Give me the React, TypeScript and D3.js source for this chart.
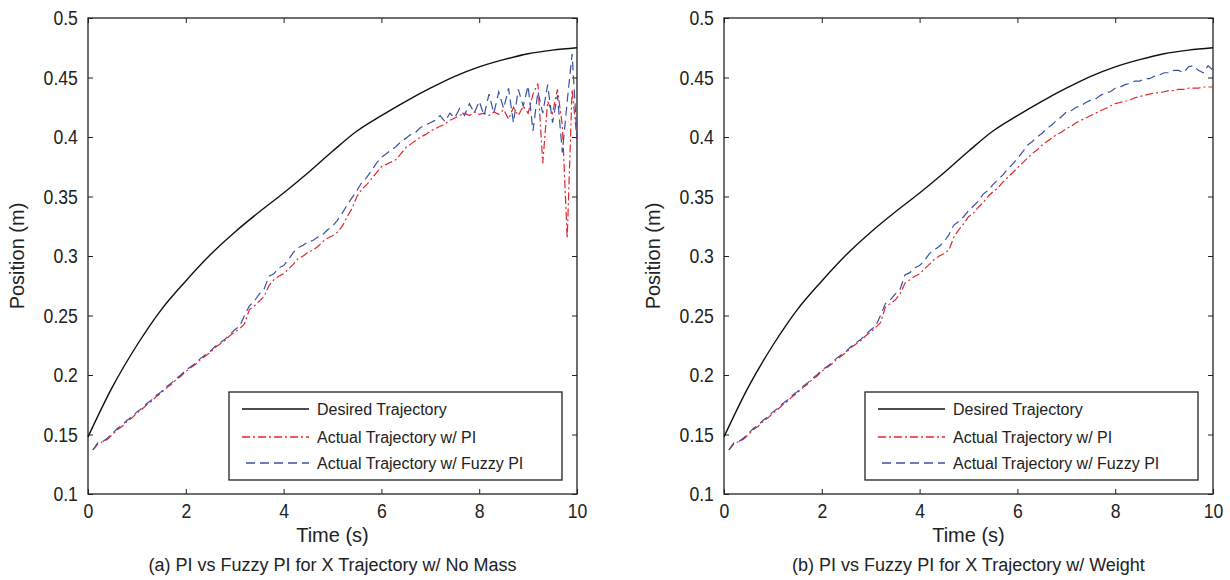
import React, { useRef, useEffect } from "react";
import { select, scaleLinear, line, curveMonotoneX, axisBottom, axisLeft, axisTop, axisRight, range } from "d3";

// time samples
const timeDesired = range(0, 10.01, 0.5);
const timeActual = range(1, 101).map((i) => i / 10);

const desired = [
  0.148, 0.19, 0.225, 0.255, 0.279, 0.301, 0.32, 0.337, 0.353, 0.37, 0.388,
  0.405, 0.418, 0.43, 0.441, 0.451, 0.459, 0.465, 0.47, 0.473, 0.475,
];

const startPart = [
  0.137, 0.142, 0.144, 0.146, 0.15, 0.154, 0.157, 0.161, 0.164, 0.168,
  0.171, 0.175, 0.178, 0.182, 0.185, 0.189, 0.192, 0.196, 0.199, 0.203,
  0.206, 0.209, 0.213, 0.216, 0.219, 0.223, 0.226, 0.229, 0.233, 0.236,
];
const startPartFuzzy = [
  0.137, 0.143, 0.144, 0.147, 0.151, 0.155, 0.158, 0.162, 0.165, 0.169,
  0.172, 0.176, 0.179, 0.183, 0.186, 0.19, 0.193, 0.197, 0.2, 0.204,
  0.207, 0.21, 0.214, 0.217, 0.22, 0.224, 0.227, 0.23, 0.234, 0.238,
];

const piNoMass = [
  ...startPart,
  0.239, 0.243, 0.255, 0.258, 0.262, 0.266, 0.275, 0.28, 0.283, 0.285,
  0.289, 0.293, 0.298, 0.3, 0.303, 0.305, 0.308, 0.312, 0.315, 0.317,
  0.32, 0.325, 0.333, 0.34, 0.35, 0.356, 0.36, 0.365, 0.37, 0.375,
  0.377, 0.379, 0.381, 0.386, 0.391, 0.394, 0.397, 0.4, 0.402, 0.405,
  0.407, 0.409, 0.411, 0.414, 0.416, 0.418, 0.42, 0.418, 0.421, 0.419,
  0.42, 0.418, 0.421, 0.419, 0.423, 0.415, 0.425, 0.418, 0.426, 0.42,
  0.436, 0.445, 0.378, 0.43, 0.42, 0.44, 0.41, 0.315, 0.44, 0.398,
];

const fuzzyNoMass = [
  ...startPartFuzzy,
  0.241, 0.25, 0.258, 0.262, 0.268, 0.272, 0.283, 0.285, 0.29, 0.292,
  0.297, 0.303, 0.307, 0.309, 0.312, 0.313, 0.316, 0.318, 0.322, 0.325,
  0.33, 0.336, 0.343, 0.349, 0.355, 0.362, 0.366, 0.372, 0.378, 0.383,
  0.386, 0.389, 0.392, 0.396, 0.399, 0.402, 0.404, 0.408, 0.41, 0.412,
  0.414, 0.418, 0.413, 0.42, 0.416, 0.424, 0.418, 0.428, 0.42, 0.43,
  0.418, 0.436, 0.42, 0.438, 0.424, 0.441, 0.412, 0.44, 0.426, 0.443,
  0.405, 0.438, 0.42, 0.444, 0.412, 0.435, 0.387, 0.43, 0.47, 0.4,
];

const piWeight = [
  ...startPart,
  0.24, 0.244, 0.257, 0.26, 0.263, 0.268, 0.277, 0.28, 0.283, 0.285,
  0.289, 0.293, 0.297, 0.3, 0.302, 0.305, 0.316, 0.322, 0.327, 0.333,
  0.336, 0.341, 0.345, 0.35, 0.354, 0.357, 0.362, 0.366, 0.37, 0.374,
  0.378, 0.382, 0.386, 0.389, 0.393, 0.396, 0.399, 0.402, 0.404, 0.407,
  0.409, 0.412, 0.414, 0.416, 0.418, 0.42, 0.422, 0.424, 0.426, 0.428,
  0.429, 0.43, 0.431, 0.433, 0.434, 0.435, 0.436, 0.437, 0.437, 0.438,
  0.439, 0.439, 0.44, 0.44, 0.441, 0.441, 0.441, 0.442, 0.442, 0.442,
];

const fuzzyWeight = [
  ...startPartFuzzy,
  0.241, 0.25, 0.26, 0.263, 0.268, 0.272, 0.284, 0.286, 0.29, 0.292,
  0.296, 0.302, 0.305, 0.308, 0.312, 0.318, 0.326, 0.329, 0.333, 0.338,
  0.342, 0.346, 0.352, 0.355, 0.36, 0.364, 0.368, 0.373, 0.377, 0.382,
  0.387, 0.393, 0.396, 0.4, 0.403, 0.407, 0.41, 0.414, 0.417, 0.421,
  0.422, 0.425, 0.426, 0.429, 0.431, 0.432, 0.435, 0.437, 0.438, 0.441,
  0.442, 0.444, 0.445, 0.447, 0.447, 0.449, 0.449, 0.451, 0.452, 0.454,
  0.454, 0.456, 0.456, 0.454, 0.459, 0.46, 0.456, 0.454, 0.46, 0.456,
];

const xTicks = [0, 2, 4, 6, 8, 10];
const yTicks = [0.1, 0.15, 0.2, 0.25, 0.3, 0.35, 0.4, 0.45, 0.5];
const legendLabels = ["Desired Trajectory", "Actual Trajectory w/ PI", "Actual Trajectory w/ Fuzzy PI"];

const RED = "#e3262b";
const BLUE = "#3a52a3";
const FONT = "'Liberation Sans', Arial, sans-serif";

function Panel({ svgRef, left, caption, pi, fuzzy }) {
  useEffect(() => {
    const svg = select(svgRef.current);
    const top = 18;
    const bottom = 494;
    const right = left + 489;
    const g = svg.append("g").attr("class", "panel");

    const x = scaleLinear().domain([0, 10]).range([left, right]);
    const y = scaleLinear().domain([0.1, 0.5]).range([bottom, top]);

    // axes with inward ticks (matlab style box), narrow tall digits
    const styleAxis = (sel) => {
      sel.select(".domain").remove();
      sel.selectAll("line").attr("stroke", "#222").attr("stroke-width", 1);
      sel
        .selectAll("text")
        .attr("font-family", FONT)
        .attr("font-size", 21)
        .attr("fill", "#222")
        .attr("transform", "scale(0.84,1)");
    };

    g.append("g")
      .attr("transform", `translate(0,${bottom})`)
      .call(axisBottom(x).tickValues(xTicks).tickSize(-5).tickPadding(9).tickFormat((d) => `${d}`))
      .call(styleAxis);
    g.append("g")
      .attr("transform", `translate(0,${top})`)
      .call(axisTop(x).tickValues(xTicks).tickSize(-5).tickFormat(() => ""))
      .call(styleAxis);
    g.append("g")
      .attr("transform", `translate(${left},0)`)
      .call(axisLeft(y).tickValues(yTicks).tickSize(-5).tickPadding(12).tickFormat((d) => `${+d.toFixed(2)}`))
      .call(styleAxis);
    g.append("g")
      .attr("transform", `translate(${right},0)`)
      .call(axisRight(y).tickValues(yTicks).tickSize(-5).tickFormat(() => ""))
      .call(styleAxis);

    g.append("rect")
      .attr("x", left)
      .attr("y", top)
      .attr("width", right - left)
      .attr("height", bottom - top)
      .attr("fill", "none")
      .attr("stroke", "#222")
      .attr("stroke-width", 1.3);

    const path = line()
      .x((d) => x(d[0]))
      .y((d) => y(d[1]));

    g.append("path")
      .datum(timeActual.map((t, i) => [t, pi[i]]))
      .attr("d", path)
      .attr("fill", "none")
      .attr("stroke", RED)
      .attr("stroke-width", 1.2)
      .attr("stroke-dasharray", "8,3,2,3");

    g.append("path")
      .datum(timeActual.map((t, i) => [t, fuzzy[i]]))
      .attr("d", path)
      .attr("fill", "none")
      .attr("stroke", BLUE)
      .attr("stroke-width", 1.2)
      .attr("stroke-dasharray", "9,5");

    g.append("path")
      .datum(timeDesired.map((t, i) => [t, desired[i]]))
      .attr("d", line().x((d) => x(d[0])).y((d) => y(d[1])).curve(curveMonotoneX))
      .attr("fill", "none")
      .attr("stroke", "#111")
      .attr("stroke-width", 1.4);

    // labels
    g.append("text")
      .attr("x", (left + right) / 2)
      .attr("y", 542)
      .attr("text-anchor", "middle")
      .attr("font-family", FONT)
      .attr("font-size", 20)
      .attr("fill", "#222")
      .text("Time (s)");
    g.append("text")
      .attr("transform", `translate(${left - 64},${(top + bottom) / 2}) rotate(-90)`)
      .attr("text-anchor", "middle")
      .attr("font-family", FONT)
      .attr("font-size", 20)
      .attr("fill", "#222")
      .text("Position (m)");
    g.append("text")
      .attr("x", (left + right) / 2)
      .attr("y", 571)
      .attr("text-anchor", "middle")
      .attr("font-family", FONT)
      .attr("font-size", 18)
      .attr("fill", "#222")
      .text(caption);

    // legend
    const lx = left + 141;
    const lw = right - 15 - lx;
    const legend = g.append("g");
    legend
      .append("rect")
      .attr("x", lx)
      .attr("y", 392)
      .attr("width", lw)
      .attr("height", 88)
      .attr("fill", "white")
      .attr("stroke", "#222")
      .attr("stroke-width", 1.3);
    const styles = [
      { color: "#111", dash: null },
      { color: RED, dash: "8,3,2,3" },
      { color: BLUE, dash: "9,5" },
    ];
    const rows = [409, 437, 463];
    legendLabels.forEach((label, i) => {
      legend
        .append("line")
        .attr("x1", lx + 13 + (i === 2 ? 4 : 0))
        .attr("x2", lx + 80)
        .attr("y1", rows[i])
        .attr("y2", rows[i])
        .attr("stroke", styles[i].color)
        .attr("stroke-width", 1.3)
        .attr("stroke-dasharray", styles[i].dash);
      legend
        .append("text")
        .attr("x", lx + 88)
        .attr("y", rows[i])
        .attr("dy", "0.36em")
        .attr("font-family", FONT)
        .attr("font-size", 16)
        .attr("fill", "#222")
        .text(label);
    });

    return () => {
      g.remove();
    };
  }, [svgRef, left, caption, pi, fuzzy]);

  return null;
}

export default function App() {
  const svgRef = useRef(null);

  useEffect(() => {
    // the figure fills the whole window, no scrollbars
    document.body.style.margin = "0";
    document.body.style.overflow = "hidden";
    document.documentElement.style.overflow = "hidden";
  }, []);

  return (
    <svg ref={svgRef} width={1230} height={580} style={{ display: "block", background: "white" }}>
      <Panel svgRef={svgRef} left={88} caption="(a) PI vs Fuzzy PI for X Trajectory w/ No Mass" pi={piNoMass} fuzzy={fuzzyNoMass} />
      <Panel svgRef={svgRef} left={724} caption="(b) PI vs Fuzzy PI for X Trajectory w/ Weight" pi={piWeight} fuzzy={fuzzyWeight} />
    </svg>
  );
}
